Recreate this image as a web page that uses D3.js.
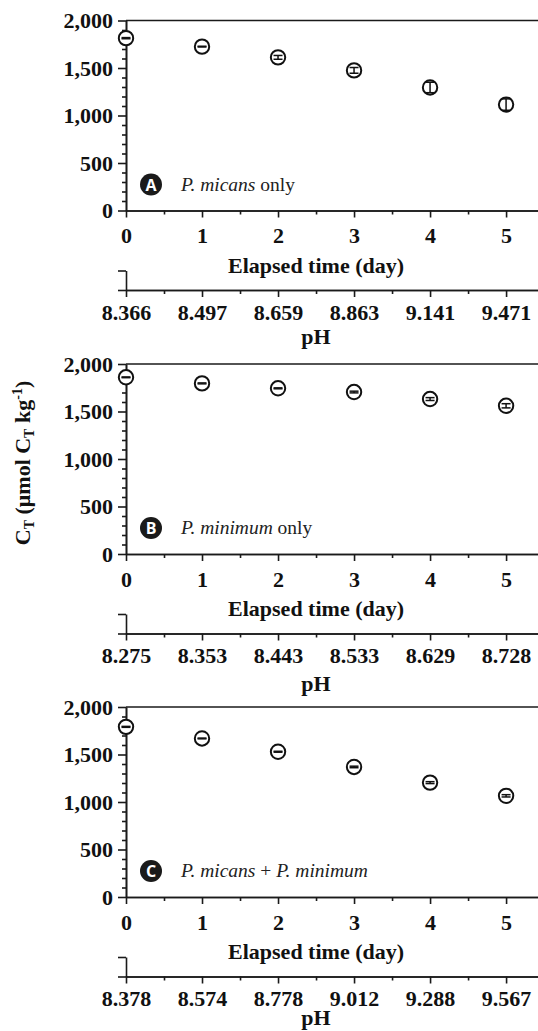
<!DOCTYPE html>
<html>
<head>
<meta charset="utf-8">
<script src="https://cdn.jsdelivr.net/npm/d3@7"></script>
<style>
  body { margin: 0; background: #fff; }
  svg { display: block; }
  .axis path, .axis line { stroke: #1a1a1a; stroke-width: 1.6px; }
  .axis text { font-family: "Liberation Serif", "Times New Roman", serif; font-weight: bold; font-size: 22px; fill: #111; }
  .title { font-family: "Liberation Serif", "Times New Roman", serif; font-weight: bold; font-size: 22px; fill: #111; }
  .label { font-family: "Liberation Serif", "Times New Roman", serif; font-size: 19.5px; fill: #222; }
</style>
</head>
<body>
<svg id="chart" width="538" height="1031"></svg>
<script>
// values
const days = [0, 1, 2, 3, 4, 5];
const yTicks = [0, 500, 1000, 1500, 2000];

const phA = ["8.366", "8.497", "8.659", "8.863", "9.141", "9.471"];
const phB = ["8.275", "8.353", "8.443", "8.533", "8.629", "8.728"];
const phC = ["8.378", "8.574", "8.778", "9.012", "9.288", "9.567"];

const ctA = [1814, 1725, 1612, 1475, 1295, 1115];
const ctB = [1860, 1796, 1744, 1705, 1631, 1560];
const ctC = [1791, 1669, 1529, 1369, 1204, 1065];

const errA = [6, 4, 20, 30, 55, 60];
const errB = [4, 5, 5, 9, 15, 22];
const errC = [5, 4, 5, 8, 10, 12];

const letters = ["A", "B", "C"];
// label pieces: [text, italic?]
const labelA = [["P. micans", true], [" only", false]];
const labelB = [["P. minimum", true], [" only", false]];
const labelC = [["P. micans", true], [" + ", false], ["P. minimum", true]];

const panels = [
  { letter: letters[0], ct: ctA, err: errA, ph: phA, label: labelA, top: 20.5, phTitle: 133.5 },
  { letter: letters[1], ct: ctB, err: errB, ph: phB, label: labelB, top: 364, phTitle: 137 },
  { letter: letters[2], ct: ctC, err: errC, ph: phC, label: labelC, top: 707, phTitle: 128 }
];

const svg = d3.select("#chart");
const left = 126, right = 538, plotH = 190;

const x = d3.scaleLinear().domain([0, 5.42]).range([left, right]);
const minorX = [0.5, 1.5, 2.5, 3.5, 4.5];
const minorY = d3.range(0, 2001, 100).filter(d => d % 500 !== 0);

panels.forEach(function(p) {
  const bottom = p.top + plotH;
  const y = d3.scaleLinear().domain([0, 2000]).range([bottom, p.top]);
  const g = svg.append("g");

  // top frame line
  g.append("line")
    .attr("x1", x(0)).attr("x2", right)
    .attr("y1", y(2000)).attr("y2", y(2000))
    .attr("stroke", "#1a1a1a").attr("stroke-width", 1.6);

  // y axis (minor then major)
  g.append("g").attr("class", "axis")
    .attr("transform", `translate(${left},0)`)
    .call(d3.axisLeft(y).tickValues(minorY).tickSize(4).tickSizeOuter(0).tickFormat(""));
  g.append("g").attr("class", "axis")
    .attr("transform", `translate(${left},0)`)
    .call(d3.axisLeft(y).tickValues(yTicks).tickSize(8).tickSizeOuter(0)
      .tickPadding(5).tickFormat(d3.format(",")));

  // x axis: days
  g.append("g").attr("class", "axis")
    .attr("transform", `translate(0,${bottom})`)
    .call(d3.axisBottom(x).tickValues(minorX).tickSize(4).tickSizeOuter(0).tickFormat(""));
  g.append("g").attr("class", "axis")
    .attr("transform", `translate(0,${bottom})`)
    .call(d3.axisBottom(x).tickValues(days).tickSize(7).tickSizeOuter(0).tickPadding(10)
      .tickFormat(d3.format("d")));

  g.append("text").attr("class", "title")
    .attr("x", (x(0) + x(5)) / 2).attr("y", bottom + 62)
    .attr("text-anchor", "middle")
    .text("Elapsed time (day)");

  // second axis: pH
  const phY = bottom + 79.5;
  const hook = d3.scaleLinear().domain([0, 1]).range([phY, bottom + 60]);
  g.append("g").attr("class", "axis")
    .attr("transform", `translate(${left},0)`)
    .call(d3.axisLeft(hook).tickValues([0, 1]).tickSize(8).tickSizeOuter(0).tickFormat(""));
  g.append("g").attr("class", "axis")
    .attr("transform", `translate(0,${phY})`)
    .call(d3.axisBottom(x).tickValues(minorX).tickSize(4).tickSizeOuter(0).tickFormat(""));
  g.append("g").attr("class", "axis")
    .attr("transform", `translate(0,${phY})`)
    .call(d3.axisBottom(x).tickValues(days).tickSize(7).tickSizeOuter(0).tickPadding(7)
      .tickFormat((d, i) => p.ph[i]));

  g.append("text").attr("class", "title")
    .attr("x", (x(0) + x(5)) / 2).attr("y", bottom + p.phTitle)
    .attr("text-anchor", "middle")
    .text("pH");

  // points with error bars
  const pts = days.map((d, i) => ({ day: d, ct: p.ct[i], err: p.err[i] }));
  const pt = g.append("g").selectAll("g.pt")
    .data(pts)
    .enter()
    .append("g")
    .attr("class", "pt");
  pt.append("circle")
    .attr("cx", d => x(d.day))
    .attr("cy", d => y(d.ct))
    .attr("r", 7.2)
    .attr("fill", "#fff")
    .attr("stroke", "#111")
    .attr("stroke-width", 2);
  pt.append("line")
    .attr("x1", d => x(d.day)).attr("x2", d => x(d.day))
    .attr("y1", d => y(d.ct + d.err)).attr("y2", d => y(d.ct - d.err))
    .attr("stroke", "#111").attr("stroke-width", 1.5);
  [1, -1].forEach(function(s) {
    pt.append("line")
      .attr("x1", d => x(d.day) - 4.5).attr("x2", d => x(d.day) + 4.5)
      .attr("y1", d => y(d.ct + s * d.err)).attr("y2", d => y(d.ct + s * d.err))
      .attr("stroke", "#111").attr("stroke-width", 1.5);
  });

  // panel tag
  g.append("circle")
    .attr("cx", 151).attr("cy", bottom - 26)
    .attr("r", 11)
    .attr("fill", "#1a1a1a");
  g.append("text")
    .attr("x", 151).attr("y", bottom - 20)
    .attr("text-anchor", "middle")
    .style("font-family", "'Open Sans', sans-serif")
    .style("font-weight", "bold")
    .style("font-size", "16px")
    .attr("fill", "#fff")
    .text(p.letter);
  const lab = g.append("text").attr("class", "label")
    .attr("x", 181).attr("y", bottom - 20);
  p.label.forEach(function(part) {
    lab.append("tspan")
      .style("font-style", part[1] ? "italic" : "normal")
      .text(part[0]);
  });
});

// shared y title
const yt = svg.append("text").attr("class", "title")
  .attr("transform", "translate(30,463) rotate(-90)")
  .attr("text-anchor", "middle");
yt.append("tspan").text("C");
yt.append("tspan").attr("font-size", "14px").attr("dy", 4).text("T");
yt.append("tspan").attr("dy", -4).text(" (\u03bcmol C");
yt.append("tspan").attr("font-size", "14px").attr("dy", 4).text("T");
yt.append("tspan").attr("dy", -4).text(" kg");
yt.append("tspan").attr("font-size", "14px").attr("dy", -8).text("-1");
yt.append("tspan").attr("dy", 8).text(")");
</script>
</body>
</html>
